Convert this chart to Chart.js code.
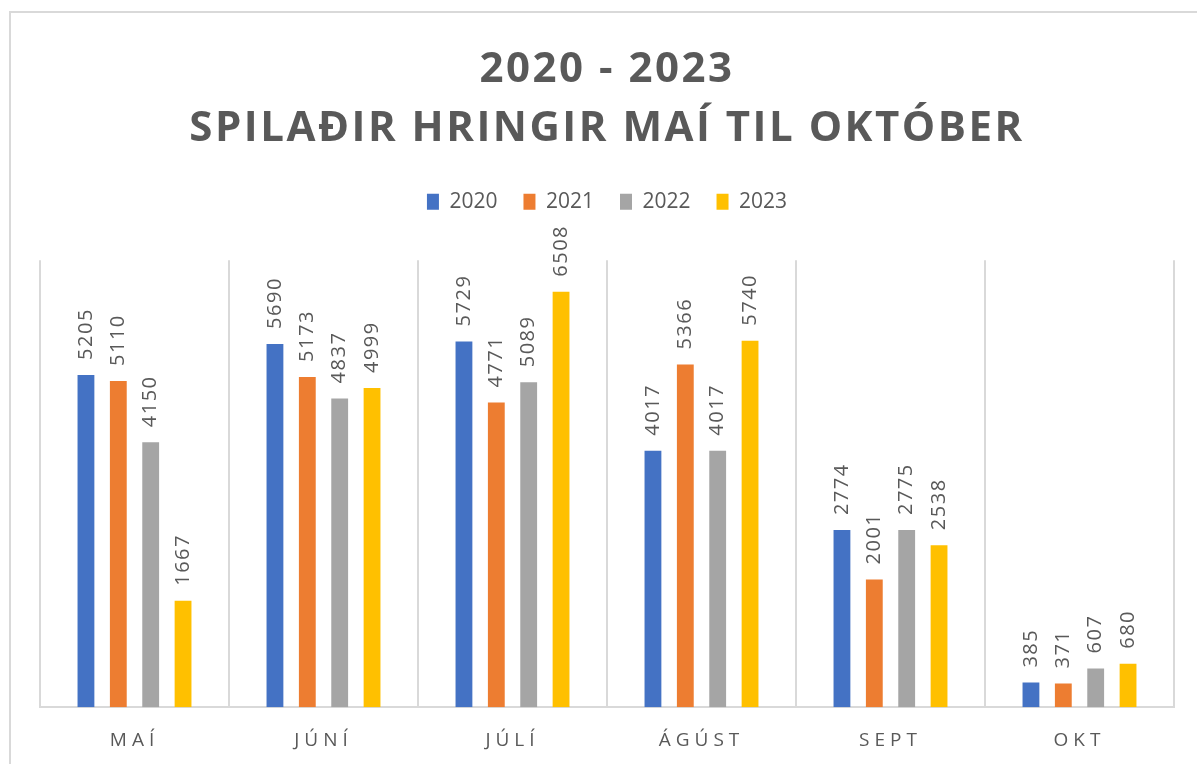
<!DOCTYPE html>
<html lang="is">
<head>
  <meta charset="UTF-8">
  <title>Spilaðir hringir maí til október</title>
  <script src="https://cdn.jsdelivr.net/npm/chart.js"></script>
  <style>
    html, body { margin: 0; padding: 0; background: #ffffff; overflow: hidden; }
    .frame {
      position: absolute; left: 9px; top: 11px; width: 1200px; height: 760px;
      border: 2px solid #d9d9d9; box-sizing: border-box;
    }
    .chart-box { position: absolute; left: 0; top: 0; width: 1197px; height: 764px; }
  </style>
</head>
<body>
  <div class="frame"></div>
  <div class="chart-box">
    <canvas id="roundsChart"></canvas>
  </div>

  <script>
    const months = ['MAÍ', 'JÚNÍ', 'JÚLÍ', 'ÁGÚST', 'SEPT', 'OKT'];
    const years = ['2020', '2021', '2022', '2023'];
    const rounds2020 = [5205, 5690, 5729, 4017, 2774, 385];
    const rounds2021 = [5110, 5173, 4771, 5366, 2001, 371];
    const rounds2022 = [4150, 4837, 5089, 4017, 2775, 607];
    const rounds2023 = [1667, 4999, 6508, 5740, 2538, 680];
    const axisMax = 7000;

    const colors = ['#4472c4', '#ed7d31', '#a5a5a5', '#ffc000'];
    const textColor = '#595959';
    const fontFamily = '"Open Sans", sans-serif';

    // letter spacing for title and month labels (canvas letterSpacing)
    const spacingPlugin = {
      id: 'spacing',
      beforeInit(chart) {
        // extra room under the legend, labels of tall bars sit there
        const lg = chart.legend;
        const fit = lg.fit;
        lg.fit = function () {
          fit.call(this);
          this.height += 38;
        };
      },
      beforeDraw(chart) {
        const x = chart.scales.x;
        if (x && !x._spaced) {
          const orig = x.drawLabels;
          x.drawLabels = function (area) {
            this.ctx.save();
            this.ctx.letterSpacing = '5px';
            orig.call(this, area);
            this.ctx.restore();
          };
          x._spaced = true;
        }
        const t = chart.titleBlock;
        if (t && !t._spaced) {
          const origT = t.draw;
          t.draw = function () {
            this.ctx.save();
            this.ctx.letterSpacing = '2.5px';
            origT.apply(this, arguments);
            this.ctx.restore();
          };
          t._spaced = true;
        }
      }
    };

    // vertical value labels above the bars
    const valueLabels = {
      id: 'valueLabels',
      afterDatasetsDraw(chart) {
        const ctx = chart.ctx;
        ctx.save();
        ctx.font = '20px ' + fontFamily;
        ctx.fillStyle = textColor;
        ctx.letterSpacing = '1.5px';
        ctx.textAlign = 'left';
        ctx.textBaseline = 'middle';
        chart.data.datasets.forEach((ds, i) => {
          chart.getDatasetMeta(i).data.forEach((bar, j) => {
            ctx.save();
            ctx.translate(bar.x, bar.y - 15);
            ctx.rotate(-Math.PI / 2);
            ctx.fillText(String(ds.data[j]), 0, 0);
            ctx.restore();
          });
        });
        ctx.restore();
      }
    };

    const series = [rounds2020, rounds2021, rounds2022, rounds2023];

    const ctx = document.getElementById('roundsChart').getContext('2d');
    new Chart(ctx, {
      type: 'bar',
      data: {
        labels: months,
        datasets: years.map((y, i) => ({
          label: y,
          data: series[i],
          backgroundColor: colors[i],
          categoryPercentage: 0.685,
          barPercentage: 0.52
        }))
      },
      options: {
        responsive: true,
        maintainAspectRatio: false,
        animation: false,
        layout: { padding: { left: 40, right: 23, top: 22, bottom: -10 } },
        plugins: {
          title: {
            display: true,
            text: ['2020 - 2023', 'SPILAÐIR HRINGIR MAÍ TIL OKTÓBER'],
            color: textColor,
            font: { family: fontFamily, size: 42, weight: 'bold', lineHeight: 1.42 },
            padding: { top: 18, bottom: 6 }
          },
          legend: {
            position: 'top',
            labels: {
              color: textColor,
              boxWidth: 12,
              boxHeight: 16,
              padding: 26,
              font: { family: fontFamily, size: 21 }
            }
          },
          tooltip: { enabled: false }
        },
        scales: {
          x: {
            grid: { color: '#d9d9d9', lineWidth: 2, drawTicks: false },
            border: { color: '#d9d9d9', width: 2 },
            ticks: {
              color: textColor,
              padding: 22,
              font: { family: fontFamily, size: 19 }
            }
          },
          y: {
            display: false,
            min: 0,
            max: axisMax
          }
        }
      },
      plugins: [spacingPlugin, valueLabels]
    });
  </script>
</body>
</html>
